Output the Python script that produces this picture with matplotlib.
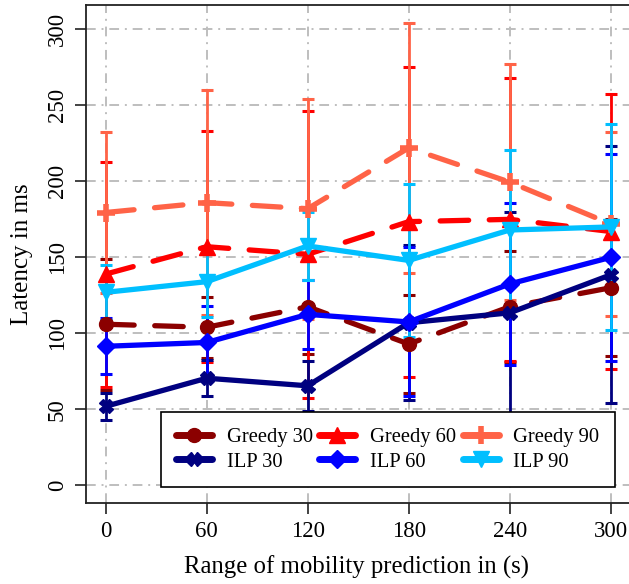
import numpy as np
import matplotlib.pyplot as plt
from matplotlib.lines import Line2D

plt.rcParams['font.family'] = 'serif'
plt.rcParams['font.serif'] = ['Liberation Serif', 'DejaVu Serif']

# Data (mean latency and +/- error in ms)
x = [0, 60, 120, 180, 240, 300]

greedy30 = [106, 104, 117.5, 93, 117.5, 130]
greedy30_err = [43, 20, 31, 32, 36.5, 45]
greedy60 = [139, 157, 152, 173.5, 175, 167]
greedy60_err = [74, 76, 94.5, 102, 93, 90.5]
greedy90 = [179.5, 186, 182, 222, 199.5, 172]
greedy90_err = [53, 74, 72.5, 82, 77.5, 60.5]
ilp30 = [52, 70.5, 65.5, 107, 113.5, 138.5]
ilp30_err = [9, 12, 16.5, 51, 66.5, 84.5]
ilp60 = [91.5, 94, 112.5, 107.5, 132.5, 150]
ilp60_err = [18.5, 24, 22.5, 49, 53, 68]
ilp90 = [127, 134, 157.5, 148, 168, 170]
ilp90_err = [18, 23.5, 22.5, 50.5, 52.5, 67.5]

series = [
    ("Greedy 30", greedy30, greedy30_err, "#8B0000", "o", 10, 1, True),
    ("Greedy 60", greedy60, greedy60_err, "#FF0000", "^", 11, 1, True),
    ("Greedy 90", greedy90, greedy90_err, "#FF6347", "+", 13, 4, True),
    ("ILP 30", ilp30, ilp30_err, "#000080", "X", 10, 1, False),
    ("ILP 60", ilp60, ilp60_err, "#0000FF", "D", 9, 1, False),
    ("ILP 90", ilp90, ilp90_err, "#00BFFF", "v", 11, 1, False),
]

fig = plt.figure(figsize=(6.29, 5.84), dpi=100)
ax = fig.add_axes([0.1367, 0.1387, 0.8717, 0.8527])

handles = {}
for name, vals, err, col, mk, ms, mew, dashed in series:
    ax.errorbar(x, vals, yerr=err, fmt="none", ecolor=col, elinewidth=2,
                capsize=4, capthick=2.2, zorder=3)
    ls = (0, (5.4, 3.9)) if dashed else "-"
    ax.plot(x, vals, color=col, linewidth=3.8, linestyle=ls,
            dash_capstyle="round", solid_capstyle="round",
            marker=mk, markersize=ms, markeredgewidth=mew, zorder=4)
    handles[name] = Line2D([], [], color=col, linewidth=5, marker=mk,
                           markersize=ms, markeredgewidth=mew,
                           solid_capstyle="round")

ax.set_xlim(-11.7, 314)
ax.set_ylim(-11.6, 316)
ax.set_xticks(x)
ax.set_yticks([0, 50, 100, 150, 200, 250, 300])

ax.set_axisbelow(True)
ax.grid(True, color="#BEBEBE", linestyle=(0, (5, 3, 1, 3)), linewidth=1.4)

for s in ["left", "bottom", "top"]:
    ax.spines[s].set_linewidth(1.3)
    ax.spines[s].set_color("#222222")
ax.spines["right"].set_visible(False)

ax.tick_params(direction="out", length=8, width=1.2, labelsize=16.5, color="#222222")
ax.tick_params(axis="x", pad=5)
ax.tick_params(axis="y", pad=5, labelrotation=90)
for lab in ax.get_yticklabels():
    lab.set_va("center")

ax.set_xlabel("Range of mobility prediction in (s)", fontsize=17.8)
ax.set_ylabel("Latency in ms", fontsize=18)
ax.xaxis.set_label_coords(0.494, -0.105)
ax.yaxis.set_label_coords(-0.096, 0.5)

order = ["Greedy 30", "ILP 30", "Greedy 60", "ILP 60", "Greedy 90", "ILP 90"]
leg = fig.legend([handles[n] for n in order], order, ncol=3, loc="lower left",
                 bbox_to_anchor=(161 / 629, 1 - 487 / 584), fontsize=14.8,
                 frameon=True, fancybox=False, framealpha=1, edgecolor="black",
                 handlelength=1.75, handletextpad=0.72, columnspacing=0.3,
                 labelspacing=0.25, borderpad=0.75, borderaxespad=0)
leg.get_frame().set_linewidth(1.2)

fig.savefig("out.png", dpi=100)
